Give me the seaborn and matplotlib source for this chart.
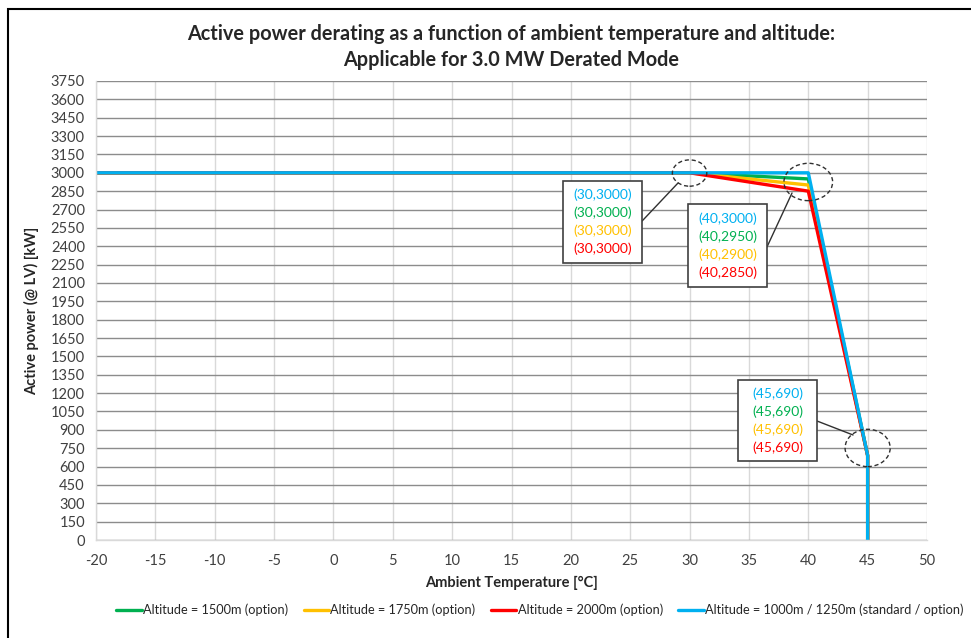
import pandas as pd
import seaborn as sns
import matplotlib.pyplot as plt
from matplotlib.patches import Ellipse, Rectangle

# data
temps = [-20, 30, 40, 45, 45]
p_1500 = [3000, 3000, 2950, 690, 0]
p_1750 = [3000, 3000, 2900, 690, 0]
p_2000 = [3000, 3000, 2850, 690, 0]
p_1000 = [3000, 3000, 3000, 690, 0]
series_names = ['Altitude = 1500m (option)', 'Altitude = 1750m (option)',
                'Altitude = 2000m (option)', 'Altitude = 1000m / 1250m (standard / option)']
series_vals = [p_1500, p_1750, p_2000, p_1000]
colors = ['#00B050', '#FFC000', '#FF0000', '#00B0F0']

x_ticks = list(range(-20, 55, 5))
y_ticks = list(range(0, 3751, 150))

# annotation labels (one box per breakpoint)
box_pts = [(30, [3000, 3000, 3000, 3000]),
           (40, [3000, 2950, 2900, 2850]),
           (45, [690, 690, 690, 690])]
label_colors = ['#00B0F0', '#00B050', '#FFC000', '#FF0000']

rows = []
for name, vals in zip(series_names, series_vals):
    for i, (t, p) in enumerate(zip(temps, vals)):
        rows.append({'Temp': t, 'Power': p, 'Series': name, 'idx': i})
df = pd.DataFrame(rows)

sns.set_style('white')
plt.rcParams['font.family'] = ['Lato', 'DejaVu Sans']
plt.rcParams['axes.unicode_minus'] = False

fig = plt.figure(figsize=(9.71, 6.38), dpi=100)
ax = fig.add_axes([96/971, 1-540/638, (927-96)/971, (540-81)/638])

sns.lineplot(data=df, x='Temp', y='Power', hue='Series', hue_order=series_names,
             palette=colors, sort=False, estimator=None, units='Series',
             linewidth=2.4, ax=ax)

ax.set_xlim(-20, 50)
ax.set_ylim(0, 3750)
ax.set_xticks(x_ticks)
ax.set_yticks(y_ticks)
ax.tick_params(axis='both', labelsize=10.5, colors='#404040')
ax.tick_params(axis='y', length=5, color='#808080', pad=3)
ax.tick_params(axis='x', length=4, color='#D0D0D0', pad=6)

ax.grid(axis='y', color='#8C8C8C', linewidth=1)
ax.grid(axis='x', color='#D9D9D9', linewidth=1)
for s in ['top', 'right']:
    ax.spines[s].set_visible(False)
for s in ['bottom', 'left']:
    ax.spines[s].set_color('#D9D9D9')
    ax.spines[s].set_linewidth(1)

ax.set_xlabel('Ambient Temperature [°C]', fontsize=10.5, fontweight='bold', labelpad=6)
ax.set_ylabel('Active power (@ LV) [kW]', fontsize=10.5, fontweight='bold', labelpad=8)
ax.set_title('Active power derating as a function of ambient temperature and altitude:\n'
             'Applicable for 3.0 MW Derated Mode', fontsize=14.3, fontweight='bold',
             pad=11, linespacing=1.35)

# dashed ellipses around the breakpoints
ellipses = [(30.0, 2998, 2.9, 215), (40.0, 2925, 4.1, 305), (45.0, 752, 3.8, 305)]
for cx, cy, w, h in ellipses:
    ax.add_patch(Ellipse((cx, cy), w, h, fill=False, linestyle=(0, (3, 2)),
                         edgecolor='#303030', linewidth=1, zorder=5))

# label boxes: (x0, x1, y_bottom, y_top, line_ys)
boxes = [(19.34, 26.0, 2263, 2933, [2819, 2672, 2525, 2377]),
         (29.87, 36.52, 2067, 2745, [2623, 2476, 2328, 2181]),
         (34.08, 40.74, 645, 1307, [1193, 1046, 899, 752])]
connectors = [((26.0, 2606), (29.03, 2917)),
              ((36.52, 2394), (38.63, 2835)),
              ((40.74, 972), (43.77, 858))]
for (t, vals), (x0, x1, yb, yt, ys), (a, b) in zip(box_pts, boxes, connectors):
    ax.plot([a[0], b[0]], [a[1], b[1]], color='#303030', linewidth=1, zorder=6)
    ax.add_patch(Rectangle((x0, yb), x1 - x0, yt - yb, facecolor='white',
                           edgecolor='#404040', linewidth=1.2, zorder=7))
    for v, yy, c in zip(vals, ys, label_colors):
        ax.text((x0 + x1) / 2, yy, f'({t},{v})', color=c, fontsize=10,
                ha='center', va='center', zorder=8)

ax.legend(loc='center', bbox_to_anchor=(540/971, 1-610/638),
          bbox_transform=fig.transFigure, ncol=4, frameon=False, fontsize=9.2,
          handlelength=2.0, handletextpad=0.1, columnspacing=1.2)

# outer chart border (left/top visible)
fig.patches.append(Rectangle((8/971, -0.1), 1.2, 1.1 - 9/638, fill=False,
                             edgecolor='black', linewidth=1.5,
                             transform=fig.transFigure, figure=fig))

fig.savefig('out.png', dpi=100)
